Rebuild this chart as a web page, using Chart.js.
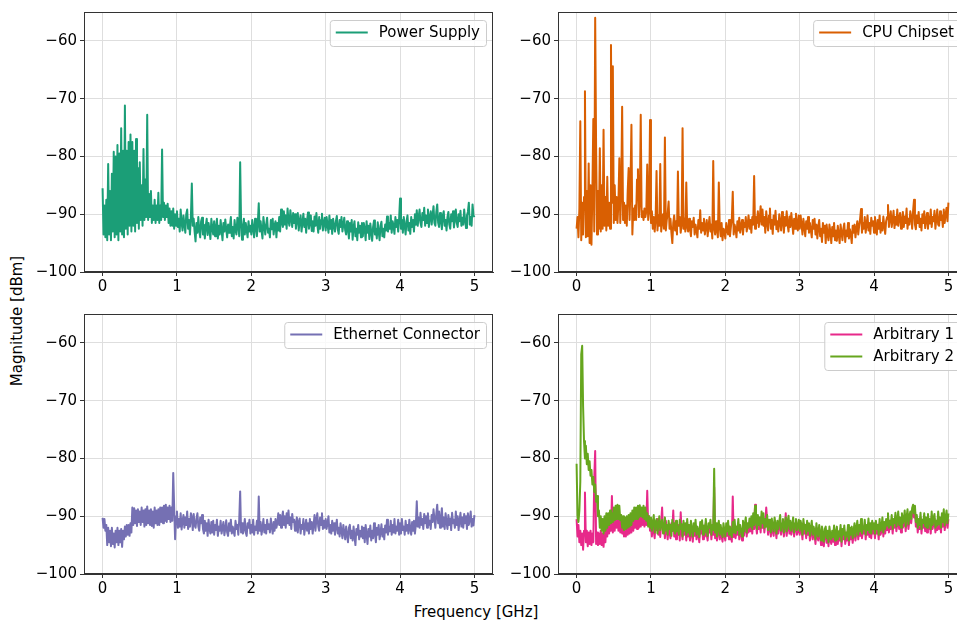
<!DOCTYPE html>
<html>
<head>
<meta charset="utf-8">
<script src="https://cdn.jsdelivr.net/npm/chart.js@4.4.1/dist/chart.umd.min.js"></script>
<style>
  html, body { margin:0; padding:0; background:#fff; }
  body { width:957px; height:624px; overflow:hidden; position:relative; font-family:'DejaVu Sans', sans-serif; }
  canvas { position:absolute; }
  .axis-title { position:absolute; font-size:15px; color:#000; white-space:nowrap; }
  #ylab { left:17px; top:321px; transform:translate(-50%,-50%) rotate(-90deg); }
  #xlab { left:476px; top:612px; transform:translate(-50%,-50%); }
</style>
</head>
<body>
<canvas id="psChart" width="469" height="300" style="left:34px;top:0"></canvas>
<canvas id="cpuChart" width="469" height="300" style="left:508px;top:0"></canvas>
<canvas id="ethChart" width="469" height="300" style="left:34px;top:302px"></canvas>
<canvas id="arbChart" width="469" height="300" style="left:508px;top:302px"></canvas>
<div class="axis-title" id="ylab">Magnitude [dBm]</div>
<div class="axis-title" id="xlab">Frequency [GHz]</div>
<script>
// sampling grid: 0 .. 5 GHz in 12.5 MHz steps
const freqGHz = Array.from({length: 401}, (_, i) => +(i * 0.0125).toFixed(4));
const xTicks = [0, 1, 2, 3, 4, 5];
const yTicks = [-100, -90, -80, -70, -60];

const powerSupply = [
  // 0 - 1 GHz
  -85.5,-93.5,-88.5,-94, -87.5,-94.5,-81.3,-93.5, -86,-94.5,-83,-93, -79.2,-94,-80,-93.5, -78,-94.5,-79.5,-93,
  -75.1,-93.5,-79,-94, -71.2,-92.5,-79,-93.5, -77.5,-92,-76.2,-93, -77.5,-92,-79,-93, -77,-91.5,-82,-92.5,
  -81,-91,-85,-92, -78.7,-91,-84,-90.5, -72.8,-91,-86.5,-90.5, -86,-91.5,-88.5,-91, -87.5,-91.5,-88.5,-91,
  -86.3,-91.5,-88.5,-91, -78.8,-90.5,-88,-91, -88.5,-90.5,-88.2,-91.5, -89,-92,-89.5,-92, -89,-92.5,-90,-92,
  // 1 - 1.5
  -89.5,-92.2,-90.8,-93,-89.2,-91.5,-92.8,-90.2,-91.8,-93.2, -90,-89.2,-92.5,-91,-93.5,-90.5,-84.7,-92,-90.8,-93,
  -94.7,-91.5,-93.2,-90.5,-92.8,-94,-91.2,-90.6,-93.5,-91.8, -94.2,-92,-90.8,-93.6,-91.5,-92.8,-94.3,-90.8,-92.5,-93.5,
  // 1.5 - 2
  -91.2,-93.8,-92.5,-90.8,-94.2,-92,-93.5,-91,-92.8,-94.5, -91.5,-93,-90.9,-92.6,-94,-91.8,-93.2,-92,-90.5,-93.8,
  -92.2,-94.2,-91,-92.8,-93.5,-90.6,-92,-93.8,-81,-91.5, -94.4,-92,-90.8,-93.5,-91.5,-92.8,-94,-91.2,-93,-92,
  // 2 - 2.5
  -93.5,-91,-92.5,-94,-90.8,-92.2,-93.8,-91.5,-88.1,-93, -91.2,-92.8,-94.2,-90.5,-92,-93.5,-91.8,-90.6,-93.2,-92.5,
  -94,-91,-92.6,-90.8,-93.5,-92,-91.2,-94,-91.5,-92.8, -90.5,-93,-89.2,-91.5,-92.2,-89.5,-91.8,-90.2,-92.5,-89,
  // 2.5 - 3
  -91.2,-92,-89.3,-90.8,-92.2,-89.8,-91.5,-90,-92.5,-90.8, -89.8,-92.8,-91.2,-90.2,-93,-91.5,-89.9,-92.2,-90.8,-93.2,
  -91,-89.7,-92.5,-91.5,-90.2,-92.9,-91.2,-93,-90.4,-92, -89.8,-91.8,-93.2,-90.5,-92.5,-91,-89.9,-92.8,-91.5,-90.6,
  // 3 - 3.5
  -92.8,-90.5,-91.8,-93.2,-90.2,-92.5,-91,-93.4,-90.8,-92, -93,-91.2,-90.3,-92.6,-93.4,-91,-92.2,-90.5,-93,-91.8,
  -90.6,-92.8,-93.5,-91.2,-92.5,-94.2,-91.5,-93,-91,-94.4, -92.2,-91.2,-93.8,-92.5,-94.5,-91.4,-93.2,-92,-94,-91.5,
  // 3.5 - 4
  -93.8,-91.5,-92.6,-94.5,-91.2,-93.2,-92,-94.3,-91.6,-93, -94.6,-92.2,-91.1,-93.5,-92.5,-94.2,-91.4,-93,-94.5,-92,
  -91.3,-93.8,-92.5,-94,-91.8,-92.8,-90.4,-93,-91.5,-92.5, -90.2,-93.2,-91.2,-92,-93.4,-90.5,-92.2,-91,-93,-90.8,
  // 4 - 4.5
  -87.3,-92.5,-91,-93.2,-90.5,-92,-93.5,-91.2,-90.2,-92.8, -91.5,-93.4,-90.5,-92.2,-91,-93,-90,-91.8,-89.3,-92,
  -90.5,-89.2,-91.5,-92.2,-89.8,-91,-88.9,-92,-90.2,-91.5, -89.2,-92.2,-90.5,-89.5,-91.8,-90.2,-88.6,-91.5,-92,-89.6,
  // 4.5 - 5
  -88.3,-91.5,-92.2,-89.8,-91,-92.6,-90.2,-89.5,-92,-91, -92.8,-90.5,-89.6,-91.8,-92.5,-90,-91.2,-89.5,-92.3,-90.8,
  -89.2,-91.5,-92.2,-90,-91.2,-89.4,-92,-90.6,-91.8,-89.2, -91,-92.4,-90.2,-89.6,-88,-91.8,-90.5,-92,-88.3,-90.2,
  -90.5
];

const cpuChipset = [
  // 0 - 1 GHz
  -92.5,-90.5,-94,-89, -73.9,-94.5,-88,-93.5, -87,-68.7,-94,-86, -93.8,-81.2,-95,-85, -95.3,-86,-73.5,-93,
  -56,-78.5,-93.5,-86, -92.5,-78.6,-93,-85, -92.5,-75.4,-92,-87, -92.8,-83.5,-92,-88, -92.5,-60.7,-88,-64.4,
  -91.5,-85,-91,-87, -91.5,-88,-80.3,-91.5, -86,-71.4,-91,-88, -91.5,-88.5,-92,-86, -82,-91,-85,-74.5,
  -93.5,-89,-91,-88.5, -91,-84,-82.2,-90.5, -88,-72.8,-90.5,-89.5, -91,-89,-90.5,-89.5, -81.4,-91,-89.5,-73.7,
  // 1 - 1.5
  -91.5,-89.5,-92.5,-90.5,-93,-91,-82.5,-92.8,-90.2,-92, -81.3,-93,-91.2,-90,-92.5,-76.7,-92.8,-91,-89.8,-87.8,
  -92.5,-90.8,-93.2,-95,-91.5,-90.2,-92.8,-91.2,-93.5,-82.6, -92,-90.5,-93.2,-91.8,-75.1,-92.5,-90.8,-93,-84.5,-92.2,
  // 1.5 - 2
  -93,-90.8,-92.5,-93.8,-91.2,-92.2,-90.6,-93.5,-91.8,-92.8, -94,-91,-92.5,-89.3,-93.2,-91.5,-92.8,-90.8,-93.5,-92.2,
  -91,-93.8,-92,-90.5,-93,-91.8,-94.2,-80.8,-92.5,-93.5, -91.2,-92.8,-94,-84.5,-92.2,-93.8,-91.5,-94.5,-92.5,-93,
  // 2 - 2.5
  -94.2,-91.5,-92.8,-93.5,-91,-93.8,-92.2,-90.8,-86.1,-93.5, -91.8,-92.5,-94,-91.2,-92.8,-90.6,-93.2,-92,-91,-93.5,
  -91.5,-92.2,-90.5,-93,-91.8,-90.2,-92.5,-91,-93.2,-90.5, -91.8,-83.4,-92.5,-90.5,-91.5,-89.5,-92.2,-90.8,-88.6,-91.8,
  // 2.5 - 3
  -89.2,-92,-90.5,-93.2,-89.5,-91.5,-92.8,-90.2,-89,-92.5, -91,-93.4,-90.2,-91.8,-89.4,-92.6,-91.2,-93,-90,-91.5,
  -92.8,-89.6,-91.2,-93.2,-90.5,-92,-89.5,-91.8,-93,-90.4, -92.2,-89.8,-91.5,-93.4,-90.8,-92.5,-89.9,-91.6,-92.8,-90.2,
  // 3 - 3.5
  -92.5,-90.2,-91.8,-93.5,-90.8,-92.2,-93.8,-91.2,-92.5,-90.5, -93.2,-91.5,-92.8,-94,-91,-92.5,-90.8,-93.5,-91.8,-94.2,
  -92.2,-91,-93.8,-92.5,-94.8,-91.5,-93.2,-92,-95,-91.8, -93.5,-94.5,-91.8,-93,-95,-92.2,-93.8,-91.5,-94.5,-92.8,
  // 3.5 - 4
  -94.6,-92,-93.5,-95,-91.8,-93.2,-94.5,-92.5,-91.6,-94.8, -92.8,-93.8,-91.5,-94.2,-92.6,-93.5,-95,-92,-93.2,-91.8,
  -94,-92.5,-91.2,-93.5,-92,-90.8,-89.1,-93.2,-91.5,-92.5, -90.5,-93.2,-91.8,-90.2,-92.8,-91.5,-93.4,-90.6,-92,-91.2,
  // 4 - 4.5
  -93.2,-90.5,-92,-93.5,-91,-92.5,-90.2,-93.2,-91.5,-92.8, -90.4,-92,-93.4,-91.2,-90.5,-88.4,-92.2,-90.8,-89.5,-92.2,
  -91,-89.4,-92.4,-90.5,-91.8,-89.2,-92,-90.6,-89.8,-92.5, -91.2,-89.6,-92.2,-90.4,-91.5,-89,-92.5,-90.8,-91.8,-89.5,
  // 4.5 - 5
  -90.5,-92.5,-89.4,-87.5,-91.8,-92.6,-90.2,-91.5,-89.6,-92.2, -90.8,-92.8,-90,-91.5,-89.5,-92.4,-91,-89.8,-92.5,-90.4,
  -91.6,-89.2,-92.2,-90.5,-91.2,-89.4,-92.5,-90.8,-89.2,-91.8, -92,-89.5,-91,-90.2,-92.2,-89.2,-91.5,-90,-88.9,-91.2,
  -88
];

const ethernetConnector = [
  // 0 - 1 GHz
  -90.3,-92,-90.5,-92.5, -91.5,-95,-92,-94.5, -92.5,-95.2,-92,-94.8, -93,-95.4,-92.5,-94.5, -92,-95,-92.5,-94.5,
  -92.2,-95.3,-92.5,-94, -91.8,-93.5,-91.5,-93.2, -91.5,-93.4,-91.2,-92.8, -88.5,-91.5,-88.6,-91.2, -89,-91.7,-88.8,-91,
  -89.2,-91.5,-88.5,-91, -89,-91.8,-88.8,-91.5, -88.3,-91.2,-89,-91.5, -88.8,-91.7,-89.2,-92, -88.5,-91.2,-89,-91.5,
  -88.8,-91.5,-88.5,-91, -88.5,-91.2,-88.2,-90.8, -88,-91,-88.5,-90.5, -88.2,-91,-88.5,-90.8, -82.5,-88.5,-94,-90,
  // 1 - 1.5
  -89.2,-92,-90.5,-91.8,-89.5,-92.3,-90.8,-89.8,-92,-90.2, -91.5,-89.2,-92.2,-90.5,-91.8,-89.5,-90.2,-92.4,-89.6,-91.5,
  -92,-90.4,-89.5,-91.8,-92.5,-90.2,-91.2,-89.8,-92.2,-93, -90.8,-92.5,-91.2,-93.4,-90.6,-92.2,-93,-91,-92.8,-90.8,
  // 1.5 - 2
  -93.2,-91.5,-92.4,-90.6,-93.4,-91.8,-92.5,-90.8,-93,-92, -91,-93.3,-92.2,-90.7,-92.8,-93.4,-91.2,-92.5,-90.6,-93,
  -91.8,-92.6,-93.4,-90.8,-92.2,-91.5,-93.2,-90.6,-85.7,-92.8, -91.2,-93,-92.2,-90.5,-92.8,-93.4,-91.2,-92,-90.6,-93,
  // 2 - 2.5
  -91.5,-92.8,-90.6,-93.2,-91.8,-92.4,-90.8,-93,-86.6,-92.5, -91,-93.2,-92,-90.5,-92.8,-91.5,-93,-90.6,-92.2,-91.4,
  -92.8,-90.4,-91.8,-93,-91,-92.5,-90.5,-92,-91.2,-89.5, -91.5,-89.8,-92,-90.2,-89.2,-91.5,-90,-92,-89.5,-91.2,
  // 2.5 - 3
  -89,-91.5,-90.2,-92.2,-89.6,-91,-90.6,-92.5,-91.2,-90.2, -92.8,-91,-90.4,-93,-91.5,-92.2,-90.5,-93.2,-91.8,-90.6,
  -92.5,-91.2,-93,-90.5,-92.2,-91,-93,-91.5,-89.8,-92.5, -90.5,-89.5,-91.8,-92.5,-90.2,-91.5,-89.5,-92.2,-90.8,-92,
  // 3 - 3.5
  -90.5,-92.2,-91.2,-90,-92.8,-91.5,-93,-90.8,-92.5,-91.2, -93.2,-91.8,-90.6,-93,-92,-93.5,-91.2,-92.6,-93.8,-91.5,
  -92.8,-94,-91.8,-93.2,-94.5,-92,-91.5,-93.8,-92.5,-94.2, -91.8,-93.5,-95,-92.2,-93.2,-91.5,-94,-92.5,-93.5,-91.8,
  // 3.5 - 4
  -93.8,-92,-94.5,-91.5,-93.2,-94.8,-92.2,-93.5,-91.6,-94.2, -92.5,-93.8,-91.2,-93,-94.5,-92,-93.2,-91.5,-94,-92.8,
  -91.4,-93.5,-92.2,-94,-91.6,-92.8,-90.6,-93.2,-91.8,-92.6, -90.8,-93.2,-91.5,-92.8,-90.5,-93,-91.8,-92.5,-90.6,-93.2,
  // 4 - 4.5
  -91.2,-93,-90.5,-92.4,-91.8,-93.2,-90.8,-92.5,-91.5,-93, -90.6,-92.2,-93.2,-91,-92.5,-90.8,-93,-91.5,-87.4,-91.8,
  -90.2,-92,-89.4,-91.5,-90.5,-92.2,-89.6,-91.2,-90,-92, -89.5,-91.5,-90.8,-92.2,-89.8,-91,-88.8,-90.5,-92,-89.6,
  // 4.5 - 5
  -88,-91.2,-89.2,-92,-90.5,-88.6,-91.8,-90.2,-92.2,-89.5, -91,-92.2,-89.8,-91.5,-90.4,-92.4,-89.4,-91.2,-90.6,-92,
  -89.2,-91.5,-90,-92.4,-90.8,-89.4,-91.8,-90.2,-92,-89.6, -91.2,-90,-92.2,-89.5,-91.5,-90.6,-89.2,-91.8,-90.5,-91.6,
  -89.8
];

const arbitrary1 = [
  // 0 - 1 GHz
  -90.5,-93.5,-91.5,-94.5, -92.5,-95,-93,-95.8, -92.5,-85.9,-94.5,-92.5, -95.2,-92.8,-94.8,-92.5, -95,-93,-94.5,-83.4,
  -78.7,-94.8,-92.8,-95, -93,-94.8,-92.5,-95, -93,-95.3,-92.5,-94.5, -91.5,-93.5,-91,-93, -90.5,-92.5,-86.5,-92.8,
  -90,-92.5,-89.8,-92, -89.5,-92.5,-90,-92.8, -90.5,-93,-91,-93.5, -91.2,-93.5,-91,-93.2, -91,-93,-90.5,-92.8,
  -90.2,-92.5,-90,-92, -89.8,-92.2,-89.5,-92, -89.5,-91.8,-89.2,-91.5, -89.5,-91.8,-89,-91.5, -85.6,-91.5,-90,-92.5,
  // 1 - 1.5
  -91.5,-93.5,-90.8,-92.6,-93.8,-91.2,-92.4,-90.5,-93.2,-91.8, -93.6,-91,-88.5,-92.8,-91.5,-93.8,-90.8,-92.5,-94,-91.6,
  -92.8,-93.8,-91.2,-92.5,-89,-93.5,-91.8,-94,-92.2,-93.2, -91.5,-94.2,-89.3,-92.8,-94,-91.6,-93.2,-92,-94.2,-91.8,
  // 1.5 - 2
  -93.5,-92.2,-94.2,-91.5,-93,-94.4,-92,-93.4,-91.6,-94, -92.6,-93.2,-94.5,-91.8,-93,-91.5,-94,-92.4,-93.5,-91.2,
  -93.2,-94.2,-92,-92.8,-91.5,-94,-92.2,-93.2,-85,-93.8, -92,-94.2,-92.8,-91.6,-94,-92.2,-93.5,-94.4,-92,-93.2,
  // 2 - 2.5
  -94.2,-92,-93.4,-91.6,-94,-92.6,-93.2,-94.4,-86.6,-93.6, -91.4,-93.8,-92.5,-93.2,-91.4,-94,-92.2,-93,-94.2,-91.6,
  -93.4,-92.2,-91,-93.5,-92,-92.8,-91.2,-92.6,-90.8,-93, -90.4,-92.2,-88,-91.6,-93,-90.6,-92.2,-91,-92.8,-90,
  // 2.5 - 3
  -92,-90.4,-92.8,-91.2,-88.5,-90.6,-93.2,-91.4,-92,-93.5, -91.2,-92.6,-93.4,-91,-92.2,-93.8,-91.6,-93,-91.8,-90.6,
  -93.2,-92,-91.2,-93.5,-92.2,-89.5,-93.4,-91.8,-90.8,-93, -91.6,-93.2,-92.2,-91,-93.5,-92,-91.2,-93.2,-92.6,-91.4,
  // 3 - 3.5
  -93.2,-91.6,-92.4,-94,-91.2,-93,-92.2,-93.8,-91.6,-93.2, -92,-94.2,-92.8,-91.6,-94,-92.6,-93.2,-94.8,-92,-93.6,
  -94.2,-92.2,-93.4,-95,-92.6,-93.8,-95.2,-93,-92.6,-94.6, -93.2,-95.2,-92.6,-94,-94.8,-93.2,-94.4,-92.4,-95,-93.6,
  // 3.5 - 4
  -92.6,-94.8,-93.4,-94.2,-92.2,-95.2,-93,-94,-92.4,-94.8, -93.6,-94.2,-92.2,-95,-92.8,-94,-92.6,-94.6,-93.2,-92,
  -94.2,-92.8,-91.6,-94,-92.2,-93.4,-91.2,-93.8,-92.6,-93, -91.4,-94,-92.2,-93.2,-91.2,-93.6,-92,-93.8,-91.6,-93,
  // 4 - 4.5
  -92,-93.8,-91.6,-93,-92.2,-94,-91.2,-93.2,-92.6,-91, -93.5,-91.8,-93,-91.2,-92.4,-90.2,-92.8,-91.6,-92.2,-90.6,
  -93,-91.2,-92,-90.2,-92.6,-91.4,-90,-92.2,-91,-92.8, -90.2,-92,-91.4,-89.8,-92.6,-91,-89.6,-92.2,-90.8,-90,
  // 4.5 - 5
  -91.2,-89.4,-88.8,-90.2,-89,-91.8,-90.6,-92.8,-91.2,-92.2, -90.2,-93,-91.4,-92,-90.2,-92.6,-91,-92.8,-90.4,-92.2,
  -91.2,-93,-90,-92.2,-91.2,-90.4,-92.8,-91.6,-92.4,-90, -92.2,-91,-92.8,-90.2,-91.8,-89.6,-92.4,-91,-89.8,-92,
  -90.5
];

const arbitrary2 = [
  // 0 - 1 GHz
  -80.9,-90,-91,-89, -84,-62,-60.5,-71, -77,-80,-77.8,-81, -79.2,-82,-80.5,-83, -82,-84.5,-83.2,-85.8,
  -84.5,-87.5,-86.5,-90, -89,-92,-90,-92.5, -90.5,-93,-90,-92.5, -89.5,-92,-89.5,-91.5, -89,-91.2,-89.5,-91,
  -88.5,-90.7,-88.2,-90.5, -88,-90.5,-88.2,-90.7, -89.8,-92,-90,-92.4, -90.2,-92.2,-90,-92, -89.8,-91.8,-89.5,-91.5,
  -89,-90.8,-88.5,-90.5, -88.5,-90.5,-88.2,-90.2, -88.1,-90,-88.5,-90.2, -88.2,-90.5,-88.5,-90.8, -89.5,-91.8,-90,-92,
  // 1 - 1.5
  -90.2,-92.5,-91.2,-89.8,-92.8,-91,-90.5,-93,-91.5,-90, -92.4,-91.2,-90.6,-93,-91.8,-90.2,-92.5,-91.5,-93.2,-90.8,
  -92.2,-91.5,-93.4,-90.6,-92.5,-91.2,-93,-90.8,-92.6,-91.8, -93.2,-90.6,-92.2,-91.4,-93.5,-90.8,-92.5,-91.2,-93.2,-90.5,
  // 1.5 - 2
  -92.8,-91.5,-93.4,-90.8,-92.2,-93.5,-91.2,-92.6,-90.6,-93.2, -91.8,-92.5,-93.6,-91,-92.2,-90.7,-93.2,-91.6,-92.8,-90.5,
  -92.5,-93.4,-91.2,-92,-90.6,-93.2,-91.5,-92.4,-81.8,-92.8, -91.2,-93.5,-92,-90.8,-93.2,-91.5,-92.8,-93.6,-91.2,-92.5,
  // 2 - 2.5
  -93.5,-91.2,-92.6,-90.8,-93.2,-91.8,-92.5,-93.6,-91,-92.8, -90.6,-93,-91.8,-92.4,-90.5,-93.2,-91.5,-92.2,-93.5,-90.8,
  -92.6,-91.4,-90.2,-92.8,-91.2,-92,-90.4,-91.8,-90,-92.2, -89.5,-91.5,-88.2,-90.8,-92.2,-89.8,-91.5,-90.2,-92,-89.2,
  // 2.5 - 3
  -91.2,-89.5,-92,-90.5,-91.8,-89.8,-92.4,-90.6,-91.2,-92.8, -90.4,-91.8,-92.6,-90.2,-91.5,-93,-90.8,-92.2,-91,-89.8,
  -92.5,-91.2,-90.5,-92.8,-91.4,-90.2,-92.6,-91,-89.9,-92.2, -90.8,-92.5,-91.5,-90.2,-92.8,-91.2,-90.5,-92.4,-91.8,-90.6,
  // 3 - 3.5
  -92.5,-90.8,-91.6,-93.2,-90.5,-92.2,-91.5,-93,-90.8,-92.5, -91.2,-93.4,-92,-90.8,-93.2,-91.8,-92.5,-94,-91.2,-92.8,
  -93.5,-91.5,-92.6,-94.2,-91.8,-93,-94.4,-92.2,-91.8,-93.8, -92.5,-94.5,-91.8,-93.2,-94,-92.5,-93.6,-91.6,-94.2,-92.8,
  // 3.5 - 4
  -91.8,-94,-92.6,-93.5,-91.5,-94.4,-92.2,-93.2,-91.6,-94, -92.8,-93.5,-91.5,-94.2,-92,-93.2,-91.8,-93.8,-92.4,-91.2,
  -93.5,-92,-90.8,-93.2,-91.5,-92.6,-90.5,-93,-91.8,-92.2, -90.6,-93.2,-91.5,-92.4,-90.4,-92.8,-91.2,-93,-90.8,-92.2,
  // 4 - 4.5
  -91.2,-93,-90.8,-92.2,-91.5,-93.2,-90.5,-92.5,-91.8,-90.2, -92.8,-91,-92.2,-90.5,-91.6,-89.5,-92,-90.8,-91.5,-89.8,
  -92.2,-90.5,-91.2,-89.4,-91.8,-90.6,-89.2,-91.5,-90.2,-92, -89.5,-91.2,-90.6,-89,-91.8,-90.2,-88.8,-91.4,-90,-89.2,
  // 4.5 - 5
  -90.5,-88.6,-88,-89.5,-88.2,-91,-89.8,-92,-90.5,-91.5, -89.4,-92.2,-90.6,-91.2,-89.5,-91.8,-90.2,-92,-89.6,-91.4,
  -90.5,-92.2,-89.2,-91.5,-90.4,-89.6,-92,-90.8,-91.6,-89.2, -91.4,-90.2,-92,-89.5,-91,-88.8,-91.6,-90.2,-89,-91.2,
  -89.5
];

Chart.defaults.font.family = "'DejaVu Sans', sans-serif";
Chart.defaults.font.size = 15;
Chart.defaults.color = '#000';

const frameBox = {
  id:'frameBox',
  afterDraw(chart){
    const {ctx, chartArea:a} = chart;
    ctx.save();
    ctx.strokeStyle = '#333';
    ctx.lineWidth = 1;
    ctx.strokeRect(a.left + 0.5, a.top + 0.5, a.right - a.left - 1, a.bottom - a.top - 1);
    ctx.restore();
  }
};

// matplotlib style legend, upper right inside the axes
const insideLegend = {
  id:'insideLegend',
  afterDraw(chart){
    const {ctx, chartArea:a} = chart;
    const items = chart.data.datasets;
    ctx.save();
    ctx.font = "15px 'DejaVu Sans'";
    const textW = Math.max(...items.map(d => ctx.measureText(d.label).width));
    const rowH = 22;
    const w = 6 + 32 + 11 + textW + 6;
    const h = items.length * rowH + 4;
    const x = a.right - 7 - w;
    const y = a.top + 8;
    ctx.fillStyle = 'rgba(255,255,255,0.8)';
    ctx.strokeStyle = '#cccccc';
    ctx.lineWidth = 1;
    ctx.beginPath();
    ctx.roundRect(x + 0.5, y + 0.5, w, h, 3);
    ctx.fill();
    ctx.stroke();
    items.forEach((d, i) => {
      const cy = y + 12.5 + i * rowH;
      ctx.strokeStyle = d.borderColor;
      ctx.lineWidth = 2.1;
      ctx.beginPath();
      ctx.moveTo(x + 6, cy);
      ctx.lineTo(x + 38, cy);
      ctx.stroke();
      ctx.fillStyle = '#000';
      ctx.textBaseline = 'middle';
      ctx.fillText(d.label, x + 49, cy + 1);
    });
    ctx.restore();
  }
};

const gridStyle = {color:'#dedede', lineWidth:1, tickColor:'#333', tickLength:4};

function makePanel(id, series){
  const el = document.getElementById(id);
  return new Chart(el, {
    type:'line',
    data:{
      datasets: series.map(s => ({
        label:s.label,
        data:freqGHz.map((f, i) => ({x:f, y:s.values[i]})),
        borderColor:s.color,
        borderWidth:2,
        pointRadius:0,
        tension:0,
        borderJoinStyle:'round',
        order:s.order || 0
      }))
    },
    options:{
      responsive:false,
      animation:false,
      devicePixelRatio:1,
      layout:{padding:{top:9, right:10, left:0, bottom:0}},
      scales:{
        x:{
          type:'linear', min:-0.25, max:5.25,
          afterBuildTicks: ax => { ax.ticks = xTicks.map(v => ({value:v})); },
          afterFit: ax => { ax.height = 28; },
          grid:gridStyle,
          border:{color:'#333', width:1},
          ticks:{padding:2, maxRotation:0, callback: v => String(v)}
        },
        y:{
          type:'linear', min:-100, max:-55,
          afterBuildTicks: ax => { ax.ticks = yTicks.map(v => ({value:v})); },
          afterFit: ax => { ax.width = 50; },
          grid:gridStyle,
          border:{color:'#333', width:1},
          ticks:{padding:3, callback: v => String(v).replace('-', '\u2212')}
        }
      },
      plugins:{legend:{display:false}, tooltip:{enabled:false}}
    },
    plugins:[frameBox, insideLegend]
  });
}

makePanel('psChart', [{label:'Power Supply', values:powerSupply, color:'#1b9e77'}]);
makePanel('cpuChart', [{label:'CPU Chipset', values:cpuChipset, color:'#d95f02'}]);
makePanel('ethChart', [{label:'Ethernet Connector', values:ethernetConnector, color:'#7570b3'}]);
makePanel('arbChart', [
  {label:'Arbitrary 1', values:arbitrary1, color:'#e7298a', order:2},
  {label:'Arbitrary 2', values:arbitrary2, color:'#66a61e', order:1}
]);
</script>
</body>
</html>
